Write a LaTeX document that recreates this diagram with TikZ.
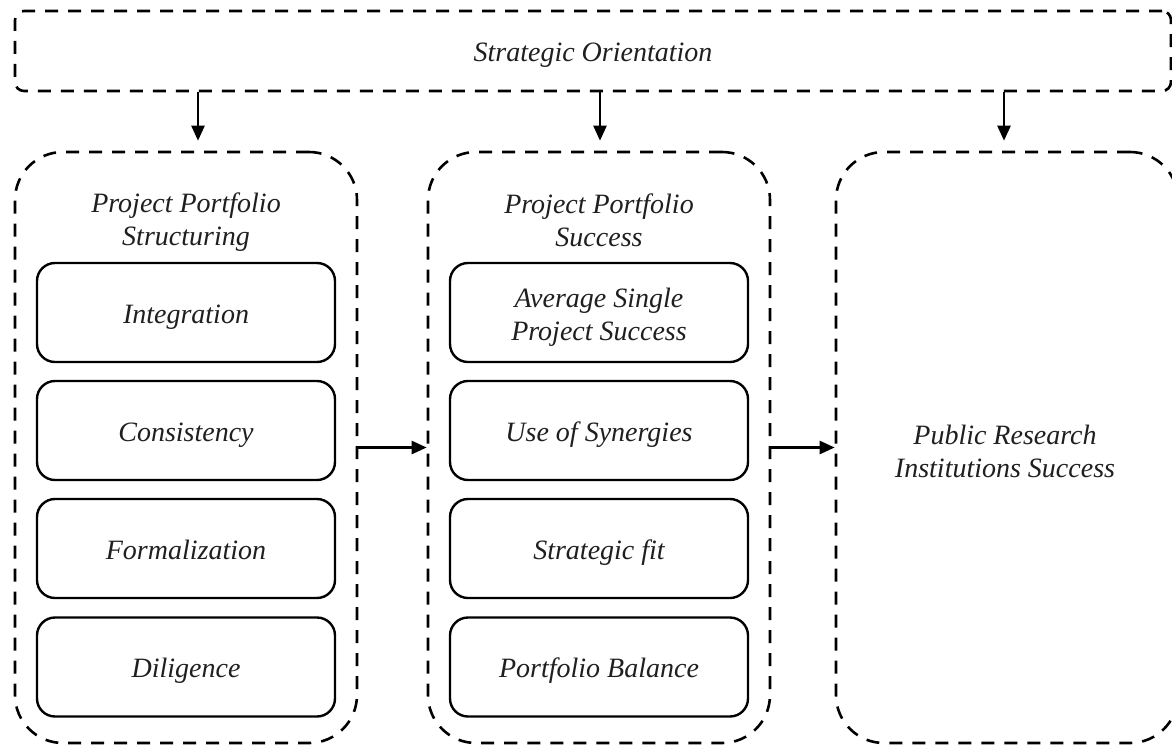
\documentclass[tikz,border=0pt]{standalone}
\usepackage{fontspec}
\setmainfont{Liberation Serif}
\usetikzlibrary{arrows.meta,calc}
\begin{document}
\begin{tikzpicture}[x=1pt,y=-1pt,
  dsh/.style={draw=black,line width=2.6pt,dash pattern=on 13pt off 10pt},
  topbox/.style={dsh,rounded corners=9pt,minimum width=1156pt,minimum height=80pt,inner sep=0pt,text height=21pt,text depth=0pt},
  grp/.style={dsh,rounded corners=48pt,minimum width=342pt,minimum height=591pt,inner sep=0pt},
  inner/.style={draw=black,line width=2.4pt,rounded corners=18pt,minimum width=298pt,minimum height=99pt,inner sep=0pt,text height=21pt,text depth=0pt},
  inner2/.style={draw=black,line width=2.4pt,rounded corners=18pt,minimum width=298pt,minimum height=99pt,inner sep=0pt},
  lbl/.style={align=center,inner sep=0pt},
  arr/.style={line width=2.4pt,-{Triangle[length=15pt,width=13pt]}},
  every node/.style={font=\fontsize{28}{33}\selectfont\itshape,text=black!88}
]
\clip (0,0) rectangle (1172,745);
\fill[white] (0,0) rectangle (1172,745);
\node[topbox] (top) at (593,51) {Strategic Orientation};
\node[grp] (L) at (186,447.5) {};
\node[grp] (M) at (599,447.5) {};
\node[grp] (R) at (1007,447.5) {};
\node[lbl] (Lt) at (186,222) {Project Portfolio\\Structuring};
\node[lbl] (Mt) at (599,220) {Project Portfolio\\Success};
\node[lbl] (Rt) at (1005,451) {Public Research\\Institutions Success};
\node[inner] (l1) at (186,312.5) {Integration};
\node[inner] (l2) at (186,430.5) {Consistency};
\node[inner] (l3) at (186,548.5) {Formalization};
\node[inner] (l4) at (186,667) {Diligence};
\node[inner2] (m1) at (599,312.5) {};
\node[lbl] (m1t) at (599,317.5) {Average Single\\Project Success};
\node[inner] (m2) at (599,430.5) {Use of Synergies};
\node[inner] (m3) at (599,548.5) {Strategic fit};
\node[inner] (m4) at (599,667) {Portfolio Balance};
\draw[arr,shorten >=10pt] ($(top.south -| L.north)+(12,0)$) -- ($(L.north)+(12,0)$);
\draw[arr,shorten >=10pt] ($(top.south -| M.north)+(1,0)$) -- ($(M.north)+(1,0)$);
\draw[arr,shorten >=10pt] ($(top.south -| R.north)+(-3,0)$) -- ($(R.north)+(-3,0)$);
\draw[arr] (L.east) -- (M.west);
\draw[arr] (M.east) -- (R.west);
\end{tikzpicture}
\end{document}
